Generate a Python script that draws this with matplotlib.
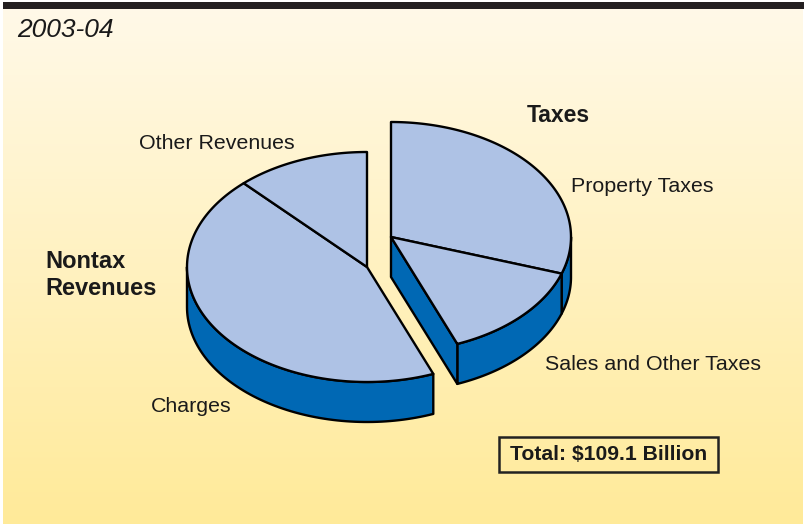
#!/usr/bin/env python3
"""Exploded 3-D style pie: local revenue sources, 2003-04 (total $109.1 billion)."""

import numpy as np
import matplotlib.pyplot as plt
from matplotlib.patches import Polygon, Rectangle

# data (billions of dollars)
GROUPS = ["Taxes", "Nontax\nRevenues"]
TAX_LABELS = ["Property Taxes", "Sales and Other Taxes"]
TAX_VALUES = [32.9, 15.1]
NONTAX_LABELS = ["Charges", "Other Revenues"]
NONTAX_VALUES = [48.0, 13.1]
TOTAL_TEXT = "Total: $109.1 Billion"
YEAR = "2003-04"

# layout (pixel space, y grows downward)
W, H = 806, 524
RX, RY, DEPTH = 180, 115, 40
CENTERS = [(391, 237), (367, 267)]  # taxes group, nontax group
START_DEG = 90.0
TOP_COLOR = "#AEC2E5"
SIDE_COLOR = "#0068B4"
EDGE = dict(edgecolor="black", linewidth=1.7, joinstyle="round")
FONT = "Liberation Sans"


def rim(cx, cy, theta, drop=0.0):
    return np.column_stack([cx + RX * np.cos(theta), cy - RY * np.sin(theta) + drop])


def visible_front(a_hi, a_lo):
    """Pieces of [a_lo, a_hi] (radians) that face the viewer (sin < 0)."""
    out = []
    for k in (-2, -1, 0, 1):
        lo = max(a_lo, -np.pi + 2 * np.pi * k)
        hi = min(a_hi, 2 * np.pi * k)
        if hi > lo:
            out.append((lo, hi))
    return out


def draw_group(ax, center, values, start, total):
    cx, cy = center
    spans = []
    a = start
    for v in values:
        b = a - 2 * np.pi * v / total
        spans.append((a, b))
        a = b
    g_start, g_end = spans[0][0], spans[-1][1]

    # outer walls
    for a_hi, a_lo in spans:
        for lo, hi in visible_front(a_hi, a_lo):
            t = np.linspace(lo, hi, 80)
            top = rim(cx, cy, t)
            bot = rim(cx, cy, t[::-1], DEPTH)
            ax.add_patch(Polygon(np.vstack([top, bot]), closed=True,
                                 facecolor=SIDE_COLOR, zorder=2, **EDGE))

    # cut faces at the group edges
    for theta, normal in ((g_start, g_start + np.pi / 2), (g_end, g_end - np.pi / 2)):
        if np.sin(normal) < -1e-6:
            p = rim(cx, cy, np.array([theta]))[0]
            quad = [(cx, cy), tuple(p), (p[0], p[1] + DEPTH), (cx, cy + DEPTH)]
            ax.add_patch(Polygon(quad, closed=True, facecolor=SIDE_COLOR,
                                 zorder=2, **EDGE))

    # top faces
    for a_hi, a_lo in spans:
        t = np.linspace(a_hi, a_lo, 120)
        pts = np.vstack([[cx, cy], rim(cx, cy, t)])
        ax.add_patch(Polygon(pts, closed=True, facecolor=TOP_COLOR, zorder=3, **EDGE))
    return g_end


def main():
    fig = plt.figure(figsize=(W / 100, H / 100), dpi=100, facecolor="white")
    ax = fig.add_axes([0, 0, 1, 1])
    ax.set_xlim(0, W)
    ax.set_ylim(H, 0)
    ax.axis("off")

    # background gradient and top rule
    grad = np.linspace(0, 1, 256)[:, None]
    c_top = np.array([1.0, 0.976, 0.910])
    c_bot = np.array([1.0, 0.918, 0.600])
    img = c_top + (c_bot - c_top) * grad[..., None]
    img = np.repeat(img, 2, axis=1)
    ax.imshow(img, extent=(3, 803, H, 9), aspect="auto", zorder=0)
    ax.add_patch(Rectangle((3, 2), 801, 7, facecolor="#231F20", edgecolor="none", zorder=1))

    total = sum(TAX_VALUES) + sum(NONTAX_VALUES)
    start = np.deg2rad(START_DEG)
    end = draw_group(ax, CENTERS[0], TAX_VALUES, start, total)
    draw_group(ax, CENTERS[1], NONTAX_VALUES, end, total)

    txt = dict(fontfamily=FONT, color="#1A1A1A", va="baseline", ha="left", zorder=5)
    ax.text(17, 37, YEAR, fontsize=19, style="italic", **txt)
    ax.text(527, 122, GROUPS[0], fontsize=16.5, fontweight="bold", **txt)
    ax.text(45, 295, GROUPS[1], fontsize=17, fontweight="bold", linespacing=1.25, **txt)
    ax.text(571, 192, TAX_LABELS[0], fontsize=15.4, **txt)
    ax.text(545, 370, TAX_LABELS[1], fontsize=15.4, **txt)
    ax.text(151, 412, NONTAX_LABELS[0], fontsize=15.4, **txt)
    ax.text(139, 149, NONTAX_LABELS[1], fontsize=15.4, **txt)

    ax.add_patch(Rectangle((499, 437), 219, 35, facecolor="none",
                           edgecolor="#222222", linewidth=1.8, zorder=4))
    ax.text(608.5, 455, TOTAL_TEXT, fontsize=15.2, fontweight="bold", fontfamily=FONT,
            color="#1A1A1A", ha="center", va="center", zorder=5)

    fig.savefig("out.png", dpi=100, facecolor="white")


if __name__ == "__main__":
    main()
